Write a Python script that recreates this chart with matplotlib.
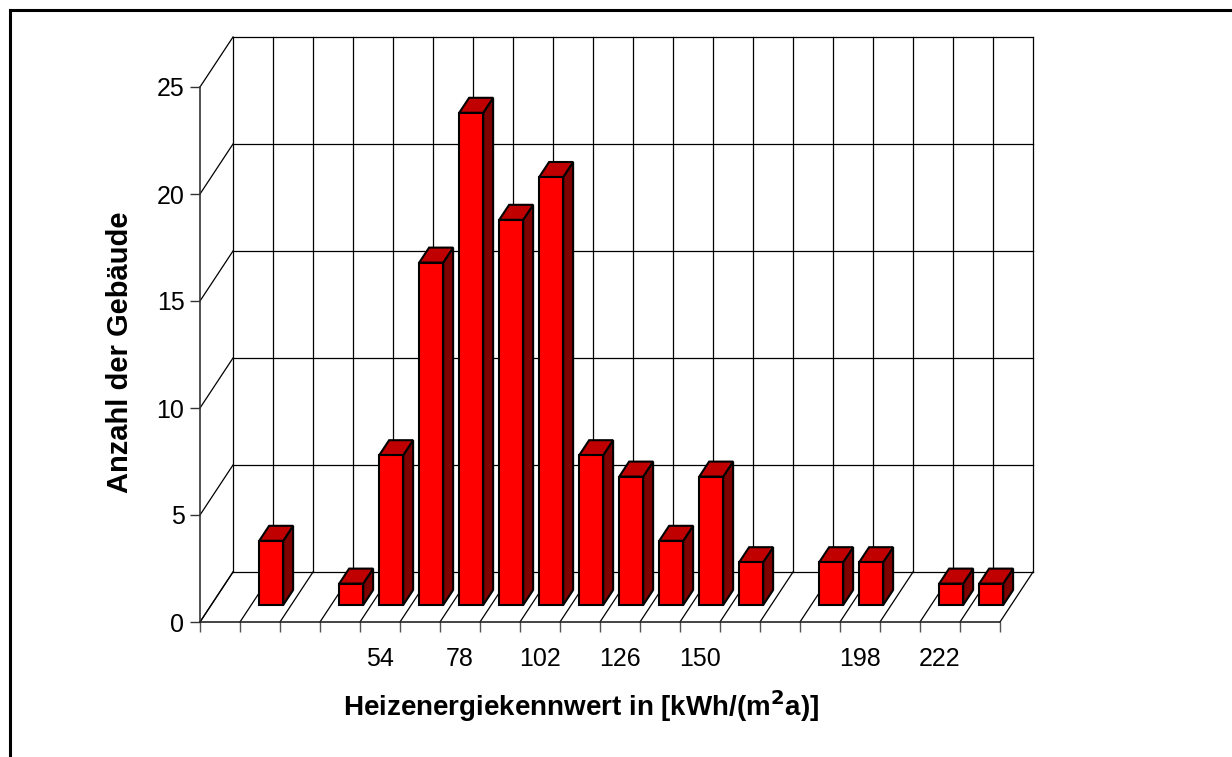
import numpy as np
import matplotlib
matplotlib.use('Agg')
import matplotlib.pyplot as plt
from matplotlib.patches import Polygon, Rectangle
from matplotlib.lines import Line2D

plt.rcParams['font.family'] = ['Liberation Sans', 'DejaVu Sans']

#---------------------------------------------------------------------
# Heizenergiekennwert classes and number of buildings per class
#---------------------------------------------------------------------
kennwert = [6, 18, 30, 42, 54, 66, 78, 90, 102, 114,
            126, 138, 150, 162, 174, 186, 198, 210, 222, 234]
anzahl = [0, 3, 0, 1, 7, 16, 23, 18, 20, 7,
          6, 3, 6, 2, 0, 2, 2, 0, 1, 1]
xlabels = ['', '', '', '', '54', '', '78', '', '102', '',
           '126', '', '150', '', '', '', '198', '', '222', '']
yticks = [0, 5, 10, 15, 20, 25]

n = len(kennwert)
ymax = 25

# depth of the pseudo 3d box (in data units)
DX = 33 / 40.
DY = 50 / 21.4
f1, f2 = 0.34, 0.64      # front / back of the bars inside the depth
bw = 0.6                 # bar width

fig = plt.figure(figsize=[12.32, 7.57], dpi=100)
ax = fig.add_axes([200/1232., (757-622)/757., 800/1232., 535/757.])
ax.set_xlim(0, n)
ax.set_ylim(0, ymax)
ax.patch.set_visible(False)
for s in ['top', 'right']:
    ax.spines[s].set_visible(False)
ax.spines['left'].set_color('#333333')
ax.spines['bottom'].set_color('#222222')
ax.spines['left'].set_linewidth(1.2)
ax.spines['bottom'].set_linewidth(1.2)

lw = 0.9
kw = dict(color='black', lw=lw, clip_on=False, zorder=1)

# back wall
for y in yticks:
    ax.plot([DX, n + DX], [y + DY, y + DY], **kw)
for i in range(n + 1):
    ax.plot([i + DX, i + DX], [DY, ymax + DY], **kw)
# side wall
for y in yticks:
    ax.plot([0, DX], [y, y + DY], **kw)
# floor
for i in range(n + 1):
    ax.plot([i, i + DX], [0, DY], **kw)

# bars
ec = 'black'
blw = 1.5
for i, v in enumerate(anzahl):
    if v == 0:
        continue
    x0 = i + (1 - bw) / 2. + f1 * DX
    x1 = x0 + bw
    yb = f1 * DY
    yt = yb + v
    ddx = (f2 - f1) * DX
    ddy = (f2 - f1) * DY
    side = Polygon([[x1, yb], [x1, yt], [x1 + ddx, yt + ddy], [x1 + ddx, yb + ddy]],
                   closed=True, facecolor='#800000', edgecolor=ec, lw=blw,
                   clip_on=False, zorder=3, joinstyle='miter')
    top = Polygon([[x0, yt], [x1, yt], [x1 + ddx, yt + ddy], [x0 + ddx, yt + ddy]],
                  closed=True, facecolor='#C00000', edgecolor=ec, lw=blw,
                  clip_on=False, zorder=3, joinstyle='miter')
    front = Rectangle((x0, yb), bw, v, facecolor='#FF0000', edgecolor=ec,
                      lw=blw, clip_on=False, zorder=4, joinstyle='miter')
    ax.add_patch(side)
    ax.add_patch(top)
    ax.add_patch(front)

# axes ticks
ax.set_yticks(yticks)
ax.set_xticks(np.arange(n + 1))
ax.set_xticklabels([])
ax.set_xticks(np.arange(n) + 0.5, minor=True)
ax.set_xticklabels(xlabels, minor=True)
ax.tick_params(axis='x', which='major', length=7.2, width=1, color='#555555', direction='out')
ax.tick_params(axis='x', which='minor', length=0, pad=18, labelsize=18)
ax.tick_params(axis='y', length=7.2, width=1, color='#333333', pad=4, labelsize=18)

ax.set_xlabel('Heizenergiekennwert in [kWh/(m$\\mathbf{^2}$a)]', fontsize=20, fontweight='bold')
ax.xaxis.set_label_coords(0.476, -0.123)
ax.set_ylabel('Anzahl der Gebäude', fontsize=21, fontweight='bold')
ax.yaxis.set_label_coords(-0.082, 0.505)

# frame round the chart area
fig.add_artist(Line2D([9.5/1232., 1.0], [1 - 9.5/757., 1 - 9.5/757.], color='black', lw=2.2))
fig.add_artist(Line2D([9.5/1232., 9.5/1232.], [0.0, 1 - 9.5/757.], color='black', lw=2.2))

fig.savefig('out.png', dpi=100)
